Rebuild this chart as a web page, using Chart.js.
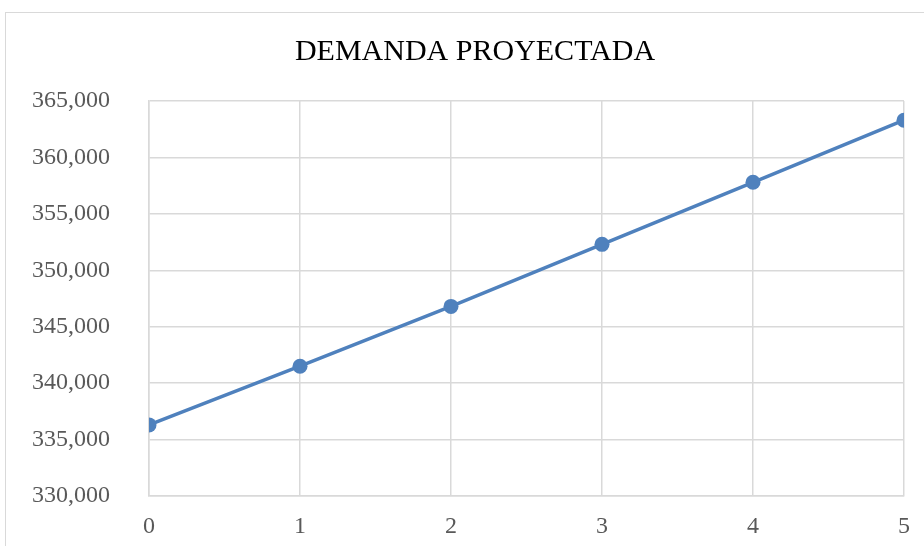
<!DOCTYPE html>
<html>
<head>
<meta charset="utf-8">
<script src="https://cdn.jsdelivr.net/npm/chart.js@4.4.0/dist/chart.umd.min.js"></script>
<style>
html,body{margin:0;padding:0;background:#fff;overflow:hidden;width:924px;height:546px;}
#box{position:absolute;left:5px;top:12px;width:940px;height:560px;border:1px solid #d9d9d9;box-sizing:border-box;}
canvas{display:block;}
</style>
</head>
<body>
<div id="box"><canvas id="c" width="938" height="558"></canvas></div>
<script>
const titleText = 'DEMANDA PROYECTADA';
const periods = [0, 1, 2, 3, 4, 5];
const demand = [336300, 341500, 346800, 352300, 357800, 363300];
const yMin = 330000, yMax = 365000, yStep = 5000;

const points = periods.map((p, i) => ({x: p, y: demand[i]}));
const serif = '"Liberation Serif", "Times New Roman", serif';

new Chart(document.getElementById('c'), {
  type: 'line',
  data: {
    datasets: [{
      data: points,
      borderColor: '#4f81bd',
      backgroundColor: '#4f81bd',
      borderWidth: 3.5,
      pointRadius: 7.5,
      pointHoverRadius: 7.5,
      pointBorderWidth: 0,
      tension: 0
    }]
  },
  options: {
    responsive: false,
    animation: false,
    layout: {padding: {left: 0, right: 0, top: 0, bottom: 0}},
    plugins: {
      legend: {display: false},
      tooltip: {enabled: false},
      title: {
        display: true,
        text: titleText,
        color: '#000000',
        font: {family: serif, size: 30, weight: 'normal'},
        padding: {top: 21, bottom: 31}
      }
    },
    scales: {
      x: {
        type: 'linear',
        min: 0, max: 5,
        ticks: {stepSize: 1, color: '#595959', padding: 16,
          font: {family: serif, size: 24}},
        grid: {color: '#d9d9d9', lineWidth: 1.5, drawTicks: false},
        border: {color: '#d9d9d9', width: 1.5},
        afterFit: (s) => { s.height = 558 - 483; s.paddingRight = 40; }
      },
      y: {
        min: yMin, max: yMax,
        ticks: {stepSize: yStep, color: '#595959', padding: 39,
          font: {family: serif, size: 24},
          callback: (v) => v.toLocaleString('en-US')},
        grid: {color: '#d9d9d9', lineWidth: 1.5, drawTicks: false},
        border: {color: '#d9d9d9', width: 1.5},
        afterFit: (s) => { s.width = 143; }
      }
    }
  }
});
</script>
</body>
</html>
